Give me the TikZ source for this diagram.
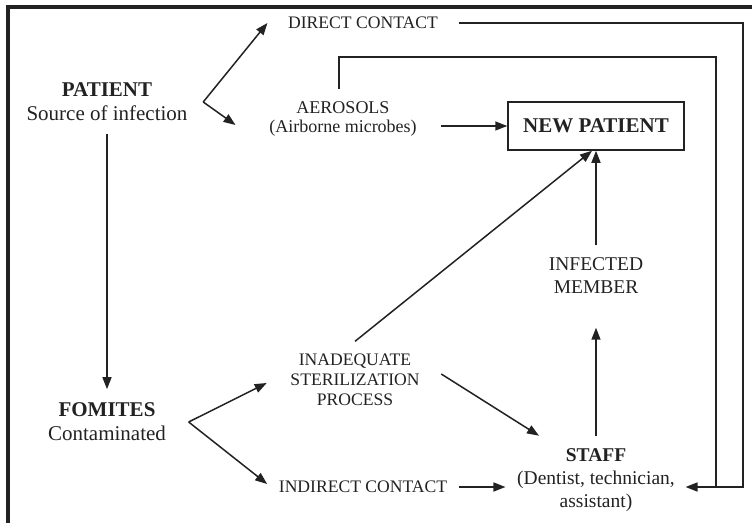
\documentclass[tikz,border=0pt]{standalone}
\usepackage{fontspec}
\setmainfont{Liberation Serif}
\usetikzlibrary{arrows.meta, positioning, calc}
\definecolor{cink}{HTML}{222222}
\tikzset{
  every picture/.style={line width=1.5pt, draw=cink, text=cink},
  big/.style={align=center, inner sep=2pt, font=\fontsize{21}{24}\selectfont},
  mid/.style={align=center, inner sep=2pt, font=\fontsize{19.5}{23}\selectfont},
  small/.style={align=center, inner sep=2pt, font=\fontsize{17.6}{20}\selectfont},
  arrow/.style={-{Triangle[length=12pt, width=9pt]}, draw=cink},
  rail/.style={draw=cink, line width=1.5pt},
}

\begin{document}
\begin{tikzpicture}[x=1pt, y=-1pt,
                    boxed/.style={big, draw=cink, minimum width=176pt, minimum height=48pt}]
  \useasboundingbox (0,0) rectangle (752,522);
  \draw[cink, line width=3.2pt] (8,530) -- (8,7) -- (760,7);
  % sources
  \node[big] (patient) at (107,102) {\textbf{PATIENT}\\Source of infection};
  \node[big] (fomites) at (107,422) {\textbf{FOMITES}\\Contaminated};
  % routes
  \node[small] (direct) at (363,23) {DIRECT CONTACT};
  \node[small, font=\fontsize{18}{19}\selectfont] (aerosols) at (343,119) {AEROSOLS\\(Airborne microbes)};
  \node[small] (steril) at (355,380) {INADEQUATE\\STERILIZATION\\PROCESS};
  \node[small] (indirect) at (363,487) {INDIRECT CONTACT};
  % targets
  \node[boxed] (newpat) at (596,126) {\textbf{NEW PATIENT}};
  \node[mid] (infected) at (596,276) {INFECTED\\MEMBER};
  \node[mid] (staff) at (596,480) {\textbf{STAFF}\\(Dentist, technician,\\assistant)};
  % split points
  \coordinate (psplit) at ([xshift=13pt]patient.east);
  \coordinate (fsplit) at ([xshift=20pt]fomites.east);
  \coordinate (staffin) at ([xshift=8pt, yshift=-7pt]staff.east);
  % patient
  \draw[arrow] (psplit) -- ([xshift=-18pt]direct.west);
  \draw[arrow] (psplit) -- ([xshift=-31pt, yshift=-6pt]aerosols.west);
  \draw[arrow] ([yshift=-10pt]patient.south) -- ([yshift=11pt]fomites.north);
  % fomites
  \draw[arrow] (fsplit) -- ([xshift=-21pt, yshift=-3pt]steril.west);
  \draw[arrow] (fsplit) -- ([xshift=-9pt, yshift=3pt]indirect.west);
  % into new patient
  \draw[arrow] ($(aerosols.east|-newpat.west)+(22,0)$) -- (newpat.west);
  \draw[arrow] ([yshift=10pt]steril.north) -- ([xshift=-4pt]newpat.south);
  \draw[arrow] ([yshift=10pt]infected.north) -- (newpat.south);
  % into staff
  \draw[arrow] ([xshift=19pt, yshift=6pt]steril.east) -- ([xshift=-57pt, yshift=10pt]staff.north);
  \draw[arrow] ([xshift=9pt]indirect.east) -- ($(staff.west|-indirect.east)+(-9,0)$);
  \draw[arrow] ([yshift=10pt]staff.north) -- ([yshift=-31pt]infected.south);
  % return rails
  \draw[rail] ([xshift=-4pt, yshift=10pt]aerosols.north) -- ++(0,-32) -| (716,0 |- staffin);
  \draw[arrow] ([xshift=18pt]direct.east) -| (743,0 |- staffin) -- (staffin);
\end{tikzpicture}
\end{document}
